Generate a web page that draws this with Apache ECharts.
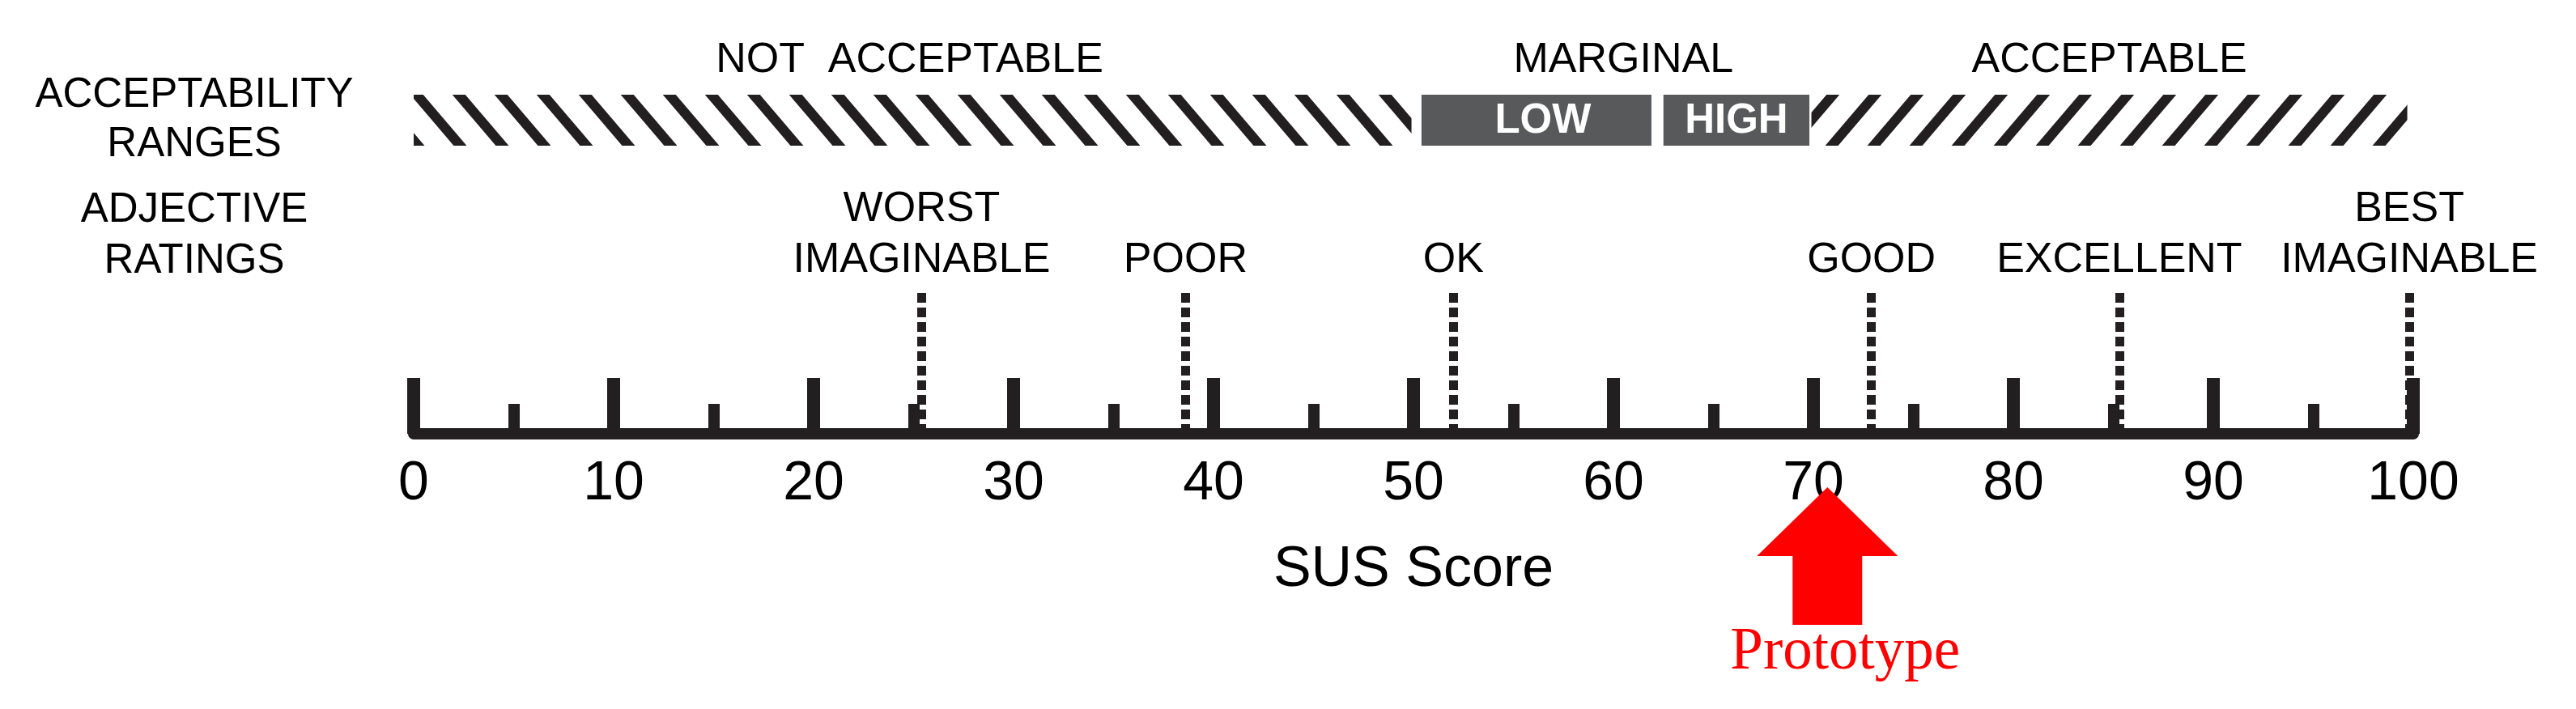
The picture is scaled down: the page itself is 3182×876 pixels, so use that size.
<!DOCTYPE html>
<html>
<head>
<meta charset="utf-8">
<title>SUS Score</title>
<script src="https://cdn.jsdelivr.net/npm/echarts@6/dist/echarts.min.js"></script>
<style>
  html, body { margin: 0; padding: 0; background: #fff; }
  #chart { width: 3182px; height: 876px; }
</style>
</head>
<body>
<div id="chart"></div>
<script>
// scale
const tickValues = [0, 10, 20, 30, 40, 50, 60, 70, 80, 90, 100];

// acceptability ranges (titles above the bar)
const rangeTitles = ['NOT  ACCEPTABLE', 'MARGINAL', 'ACCEPTABLE'];
const rangeCenters = [24.8, 60.5, 84.8];

// the bar pieces
const bandNames = ['', 'LOW', 'HIGH', ''];
const bandFrom = [0, 50.4, 62.5, 69.9];
const bandTo = [49.9, 61.9, 69.8, 99.7];

// adjective ratings
const adjectiveNames = ['WORST\nIMAGINABLE', 'POOR', 'OK', 'GOOD', 'EXCELLENT', 'BEST\nIMAGINABLE'];
const adjectiveScores = [25.4, 38.6, 52.0, 72.9, 85.3, 99.8];

// result
const prototypeName = 'Prototype';
const prototypeScore = [70.7];

const INK = '#231f20';
const SANS = "'Liberation Sans', Arial, Helvetica, sans-serif";

// diagonal hatch tiles
function hatch(dir, phase) {
  const w = 52, h = 61, t = 16;
  const c = document.createElement('canvas');
  c.width = w; c.height = h;
  const ctx = c.getContext('2d');
  if (dir === '/') { ctx.translate(w, 0); ctx.scale(-1, 1); }
  ctx.fillStyle = INK;
  for (let k = -2; k <= 2; k++) {
    const x0 = phase + k * w;
    ctx.beginPath();
    ctx.moveTo(x0, 0);
    ctx.lineTo(x0 + t, 0);
    ctx.lineTo(x0 + t + w, h);
    ctx.lineTo(x0 + w, h);
    ctx.closePath();
    ctx.fill();
  }
  return { image: c, repeat: 'repeat' };
}
const bandFills = [hatch('\\', 43), '#58595b', '#58595b', hatch('/', 20)];

let myChart = echarts.init(document.getElementById('chart'));

let option = {
  backgroundColor: '#fff',
  animation: false,
  grid: [
    { left: 511, right: 201, top: 360, bottom: 340 },
    { left: 511, right: 201, top: 117, height: 63 }
  ],
  xAxis: [
    {
      gridIndex: 0,
      type: 'value',
      min: 0,
      max: 100,
      interval: 10,
      name: 'SUS Score',
      nameLocation: 'middle',
      nameGap: 134,
      nameTextStyle: { fontFamily: SANS, fontSize: 70, color: '#000' },
      axisLine: { lineStyle: { color: INK, width: 14 } },
      axisTick: { inside: true, length: 69, lineStyle: { color: INK, width: 16 } },
      minorTick: { show: true, splitNumber: 2, length: 37, lineStyle: { color: INK, width: 14 } },
      axisLabel: {
        margin: 28,
        fontFamily: SANS,
        fontSize: 68,
        color: '#000',
        formatter: v => tickValues.indexOf(v) >= 0 ? String(v) : ''
      },
      splitLine: { show: false }
    },
    { gridIndex: 1, type: 'value', min: 0, max: 100, show: false }
  ],
  yAxis: [
    { gridIndex: 0, type: 'value', min: 0, max: 1, show: false },
    { gridIndex: 1, type: 'value', min: 0, max: 1, show: false }
  ],
  graphic: [
    {
      type: 'text', x: 240, y: 148,
      style: {
        text: 'ACCEPTABILITY\nRANGES', font: '51px ' + SANS, fill: '#000',
        align: 'center', verticalAlign: 'middle', lineHeight: 61
      }
    },
    {
      type: 'text', x: 240, y: 291,
      style: {
        text: 'ADJECTIVE\nRATINGS', font: '51px ' + SANS, fill: '#000',
        align: 'center', verticalAlign: 'middle', lineHeight: 63
      }
    }
  ],
  series: [
    {
      // adjective rating markers
      type: 'line',
      xAxisIndex: 0,
      yAxisIndex: 0,
      data: [],
      markLine: {
        silent: true,
        symbol: ['none', 'none'],
        lineStyle: { color: INK, width: 11, type: [12, 6] },
        label: {
          show: true,
          position: 'end',
          distance: 7,
          formatter: '{b}',
          fontFamily: SANS,
          fontSize: 52,
          lineHeight: 63,
          color: '#000'
        },
        data: adjectiveScores.map((v, i) => ({ xAxis: v, name: adjectiveNames[i] }))
      }
    },
    {
      // acceptability bar pieces
      type: 'custom',
      xAxisIndex: 1,
      yAxisIndex: 1,
      clip: false,
      data: bandFrom.map((f, i) => [f, bandTo[i]]),
      renderItem: function (params, api) {
        const i = params.dataIndex;
        const p0 = api.coord([api.value(0), 1]);
        const p1 = api.coord([api.value(1), 0]);
        const children = [{
          type: 'rect',
          shape: { x: p0[0], y: p0[1], width: p1[0] - p0[0], height: p1[1] - p0[1] },
          style: { fill: bandFills[i] }
        }];
        if (bandNames[i]) {
          children.push({
            type: 'text',
            x: (p0[0] + p1[0]) / 2 + (i === 1 ? 8 : 0),
            y: (p0[1] + p1[1]) / 2 + 1,
            style: {
              text: bandNames[i], fill: '#fff', font: 'bold 51px ' + SANS,
              align: 'center', verticalAlign: 'middle'
            }
          });
        }
        return { type: 'group', children: children };
      }
    },
    {
      // range titles
      type: 'custom',
      xAxisIndex: 1,
      yAxisIndex: 1,
      clip: false,
      data: rangeCenters.map(v => [v]),
      renderItem: function (params, api) {
        const p = api.coord([api.value(0), 1]);
        return {
          type: 'text',
          x: p[0],
          y: p[1] - 42,
          style: {
            text: rangeTitles[params.dataIndex], fill: '#000', font: '52px ' + SANS,
            align: 'center', verticalAlign: 'middle'
          }
        };
      }
    },
    {
      // prototype arrow
      type: 'custom',
      xAxisIndex: 0,
      yAxisIndex: 0,
      clip: false,
      data: prototypeScore.map(v => [v]),
      renderItem: function (params, api) {
        const p = api.coord([api.value(0), 0]);
        const x = p[0], y = p[1];
        return {
          type: 'group',
          children: [
            {
              type: 'polygon',
              shape: {
                points: [
                  [x, y + 66], [x + 87, y + 151], [x + 43, y + 151], [x + 43, y + 236],
                  [x - 43, y + 236], [x - 43, y + 151], [x - 87, y + 151]
                ]
              },
              style: { fill: '#ff0000' }
            },
            {
              type: 'text',
              x: x + 22,
              y: y + 271,
              style: {
                text: prototypeName, fill: '#ff0000',
                font: "73px 'Liberation Serif', 'Times New Roman', serif",
                align: 'center', verticalAlign: 'middle'
              }
            }
          ]
        };
      }
    }
  ]
};

myChart.setOption(option, true);
</script>
</body>
</html>
